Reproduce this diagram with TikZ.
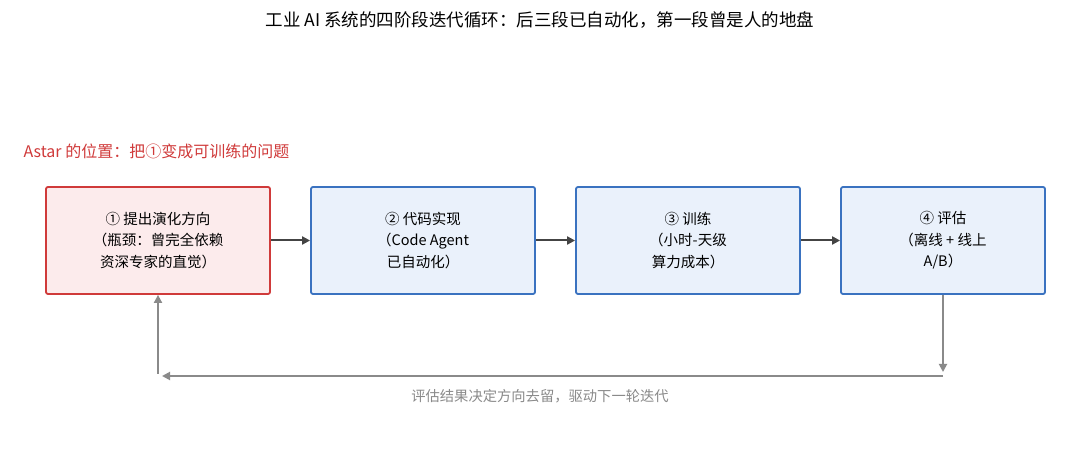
\documentclass[tikz,border=0pt]{standalone}
\usepackage{fontspec}
\setmainfont{Noto Sans CJK SC}
\usetikzlibrary{arrows.meta}
\definecolor{rb}{HTML}{D03A3A}\definecolor{rf}{HTML}{FCEBEC}
\definecolor{bb}{HTML}{3A72C0}\definecolor{bf}{HTML}{EAF1FB}
\definecolor{ag}{HTML}{444444}\definecolor{fg}{HTML}{8A8A8A}
\begin{document}
\begin{tikzpicture}[x=1pt,y=-1pt,
 box/.style={draw=bb,fill=bf,line width=1.8pt,rounded corners=2pt,minimum height=107pt,align=center,font=\fontsize{14.5}{21.5}\selectfont},
 red/.style={draw=rb,fill=rf},
 arr/.style={draw=ag,line width=2pt,-{Triangle[length=8pt,width=8pt]}},
 fb/.style={draw=fg,line width=1.8pt,-{Triangle[length=8pt,width=8pt]}}]
\useasboundingbox[fill=white] (0,0) rectangle (1080,470);
\node (title) at (540,20) {\fontsize{17.5}{22}\selectfont 工业 AI 系统的四阶段迭代循环：后三段已自动化，第一段曾是人的地盘};
\node[anchor=west,text=rb,font=\fontsize{16}{20}\selectfont] (astar) at (20,151) {Astar 的位置：把①变成可训练的问题};
\node[box,red,minimum width=224pt] (b1) at (158,240.5) {① 提出演化方向\\（瓶颈：曾完全依赖\\资深专家的直觉）};
\node[box,minimum width=224pt] (b2) at (423,240.5) {② 代码实现\\（Code Agent\\已自动化）};
\node[box,minimum width=224pt] (b3) at (688,240.5) {③ 训练\\（小时-天级\\算力成本）};
\node[box,minimum width=204pt] (b4) at (943,240.5) {④ 评估\\（离线 + 线上\\A/B）};
\draw[arr] (b1) -- (b2);
\draw[arr] (b2) -- (b3);
\draw[arr] (b3) -- (b4);
\coordinate (c1) at (943,372);
\coordinate (c2) at (943,376);
\coordinate (c3) at (162,376);
\coordinate (c4) at (158,374);
\draw[fb] (b4.south) -- (c1);
\draw[fb] (c2) -- (c3);
\draw[fb] (c4) -- (b1.south);
\node[text=fg,font=\fontsize{14.3}{18}\selectfont] (lab) at (540,396) {评估结果决定方向去留，驱动下一轮迭代};
\end{tikzpicture}
\end{document}
